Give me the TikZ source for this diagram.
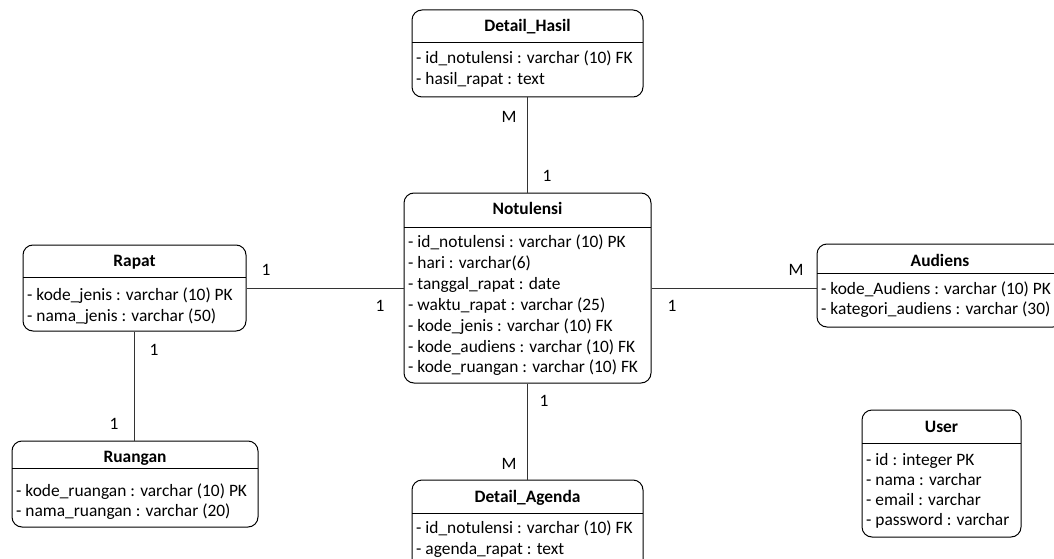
\documentclass[tikz,border=0pt]{standalone}
\usepackage{fontspec}
\setmainfont{Carlito}
\usetikzlibrary{fit}

\newcommand\erfont{\fontsize{17.4}{20}\selectfont}

\tikzset{
  ebox/.style={draw, line width=1pt, rounded corners=10pt, inner sep=0pt, fit={#1}},
  sepline/.style={line width=1pt},
  etitle/.style={font=\erfont\bfseries, inner sep=0pt, anchor=base},
  erow/.style={font=\erfont, inner sep=0pt, anchor=base west},
  conn/.style={line width=1pt, draw=black!80},
  card/.style={font=\erfont, inner sep=0pt, anchor=center},
}

% entity: name, x1, y1, x2, y2, separator y, title baseline, title, {baseline/row,...}
\newcommand\entity[9]{%
  \node[ebox={(#2,#3) (#4,#5)}] (#1) {};
  \draw[sepline] (#2,#6) -- (#4,#6);
  \node[etitle] (#1-t) at ({(#2+#4)/2},#7) {#8};
  \foreach \yy/\rowtxt [count=\i] in {#9}
    \node[erow] (#1-r\i) at (#2+4,\yy) {\rowtxt};
}

\begin{document}
\begin{tikzpicture}[x=1pt, y=-1pt]
\useasboundingbox (0,0) rectangle (1054,559);
\clip (0,0) rectangle (1054,559);

\entity{hasil}{412}{10}{643}{97}{43}{32}{Detail\_Hasil}
  {63.5/{- id\_notulensi : varchar (10) FK}, 84.5/{- hasil\_rapat : text}}

\entity{notul}{404}{193}{651}{383}{227}{214}{Notulensi}
  {247.5/{- id\_notulensi : varchar (10) PK},
   268.4/{- hari : varchar(6)},
   289.3/{- tanggal\_rapat : date},
   310.2/{- waktu\_rapat : varchar (25)},
   331.1/{- kode\_jenis : varchar (10) FK},
   352/{- kode\_audiens : varchar (10) FK},
   372.9/{- kode\_ruangan : varchar (10) FK}}

\entity{rapat}{23}{245}{246}{331}{277}{266.5}{Rapat}
  {300/{- kode\_jenis : varchar (10) PK}, 321/{- nama\_jenis : varchar (50)}}

\entity{ruang}{12}{441}{258}{527}{468}{462.5}{Ruangan}
  {496/{- kode\_ruangan : varchar (10) PK}, 516/{- nama\_ruangan : varchar (20)}}

\entity{agenda}{412}{480}{643}{585}{513}{502}{Detail\_Agenda}
  {533/{- id\_notulensi : varchar (10) FK}, 554/{- agenda\_rapat : text}}

\entity{aud}{817}{244}{1063}{327}{273}{266.5}{Audiens}
  {294/{- kode\_Audiens : varchar (10) PK}, 314/{- kategori\_audiens : varchar (30)}}

\entity{user}{862}{410}{1021}{537}{443}{432}{User}
  {465/{- id : integer PK}, 485/{- nama : varchar},
   505/{- email : varchar}, 525/{- password : varchar}}

% relationships
\draw[conn] (hasil.south) -- (hasil.south |- notul.north);
\draw[conn] (rapat.east) -- (rapat.east -| notul.west);
\draw[conn] (notul.east) -- (notul.east -| aud.west);
\draw[conn] (rapat.south) -- (rapat.south |- ruang.north);
\draw[conn] (notul.south) -- (notul.south |- agenda.north);

% cardinalities
\node[card] (c1) at (509,117) {M};
\node[card] (c2) at (547,176) {1};
\node[card] (c3) at (266,270) {1};
\node[card] (c4) at (380,306) {1};
\node[card] (c5) at (672,306) {1};
\node[card] (c6) at (796,270) {M};
\node[card] (c7) at (154,350) {1};
\node[card] (c8) at (114,424) {1};
\node[card] (c9) at (544,401) {1};
\node[card] (c10) at (509,464) {M};
\end{tikzpicture}
\end{document}
